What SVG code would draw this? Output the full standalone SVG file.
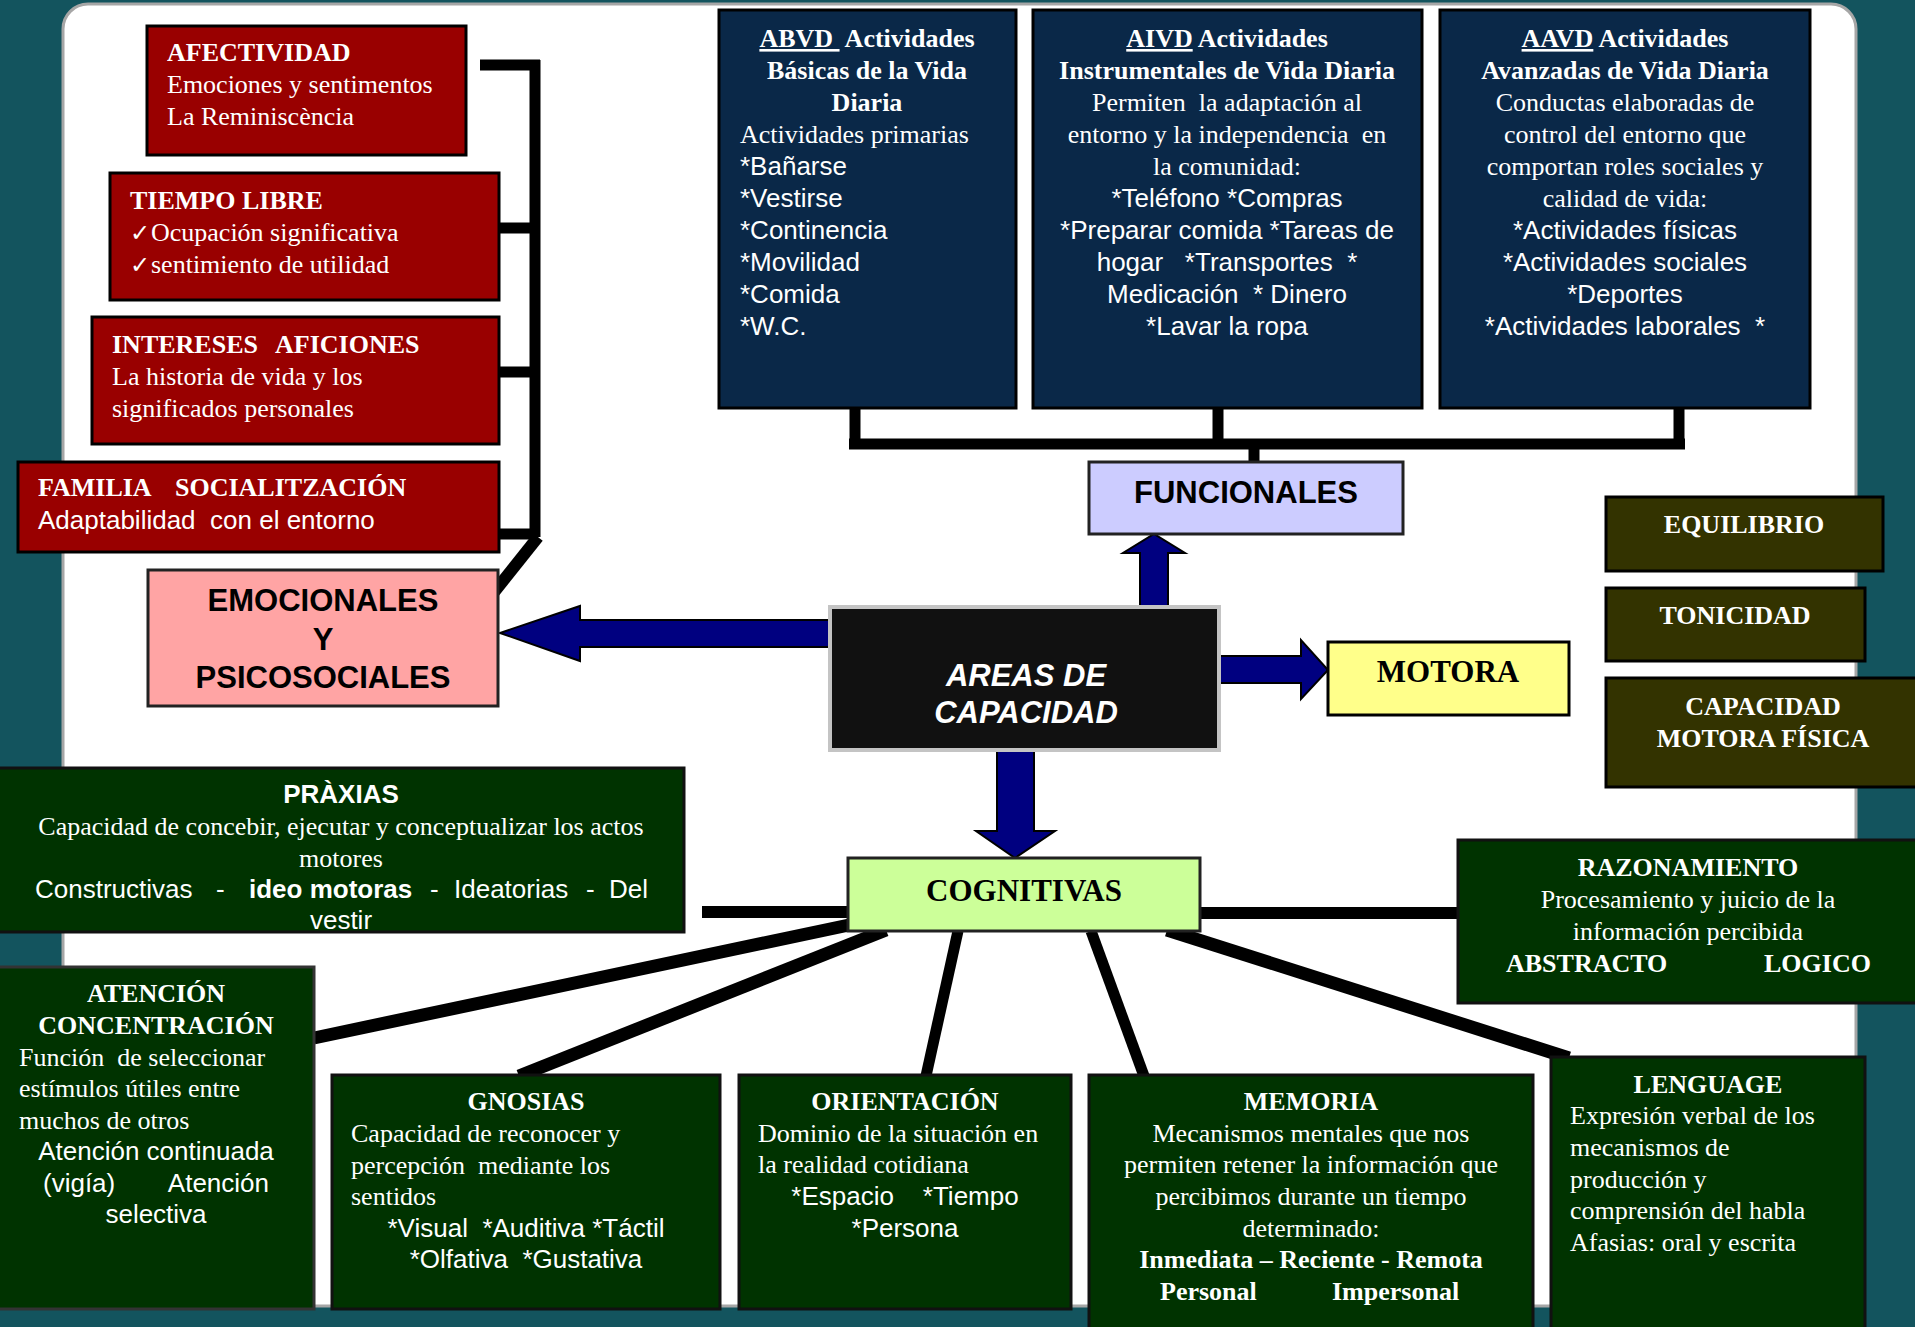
<svg xmlns="http://www.w3.org/2000/svg" width="1915" height="1327" viewBox="0 0 1915 1327">
<style>
text{font-family:"Liberation Serif","Times New Roman",serif;font-size:26px;fill:#fff;white-space:pre}
.s{font-family:"Liberation Sans",Arial,sans-serif}
.b{font-weight:bold}
.m{text-anchor:middle}
.e{text-anchor:end}
.k{fill:#000}
.big{font-size:31px}
.red{fill:#990000;stroke:#000;stroke-width:3}
.navy{fill:#0a2848;stroke:#000;stroke-width:3}
.grn{fill:#003300;stroke:#111;stroke-width:3}
.olv{fill:#333300;stroke:#000;stroke-width:3}
.ln{stroke:#000;fill:none;stroke-linecap:butt}
.arr{fill:#000080;stroke:#000;stroke-width:2;stroke-linejoin:miter}
.ck{font-family:"DejaVu Sans",sans-serif;font-size:24px}
</style>
<rect x="0" y="0" width="1915" height="1327" fill="#13545e"/>
<rect x="63" y="4" width="1793" height="1302" rx="25" ry="25" fill="#fff" stroke="#a6a6a6" stroke-width="3"/>

<g id="connectors">
  <g class="ln" stroke-width="11">
    <line x1="535" y1="60" x2="535" y2="537"/>
    <line x1="480" y1="65" x2="540" y2="65"/>
    <line x1="480" y1="228" x2="535" y2="228"/>
    <line x1="480" y1="372" x2="535" y2="372"/>
    <line x1="480" y1="534" x2="535" y2="534"/>
  </g>
  <line class="ln" x1="538" y1="537" x2="483" y2="606" stroke-width="12"/>
  <g class="ln" stroke-width="11">
    <line x1="855" y1="408" x2="855" y2="444"/>
    <line x1="1218" y1="408" x2="1218" y2="444"/>
    <line x1="1679" y1="408" x2="1679" y2="444"/>
    <line x1="849" y1="444" x2="1685" y2="444"/>
    <line x1="1254" y1="444" x2="1254" y2="462"/>
  </g>
  <line class="ln" x1="702" y1="912" x2="849" y2="912" stroke-width="12"/>
  <line class="ln" x1="1200" y1="913" x2="1458" y2="913" stroke-width="12"/>
  <line class="ln" x1="849" y1="925" x2="314" y2="1038" stroke-width="13"/>
  <line class="ln" x1="886" y1="930" x2="519" y2="1076" stroke-width="13"/>
  <line class="ln" x1="958" y1="931" x2="926" y2="1076" stroke-width="11"/>
  <line class="ln" x1="1091" y1="931" x2="1144" y2="1076" stroke-width="11"/>
  <line class="ln" x1="1167" y1="930" x2="1569" y2="1058" stroke-width="13"/>
  <polygon class="arr" points="832,620 580,620 580,606 500,633 580,661 580,647 832,647"/>
  <polygon class="arr" points="1140,609 1140,553 1123,553 1154,534 1185,553 1168,553 1168,609"/>
  <polygon class="arr" points="1217,656 1301,656 1301,640 1328,670 1301,699 1301,683 1217,683"/>
  <polygon class="arr" points="997,748 997,831 976,831 1015,858 1055,831 1034,831 1034,748"/>
</g>

<g id="afectividad">
  <rect class="red" x="147" y="26" width="319" height="129"/>
  <text x="167" y="61" class="b">AFECTIVIDAD</text>
  <text x="167" y="93">Emociones y sentimentos</text>
  <text x="167" y="125">La Reminiscència</text>
</g>
<g id="tiempo-libre">
  <rect class="red" x="110" y="173" width="389" height="127"/>
  <text x="130" y="209" class="b">TIEMPO LIBRE</text>
  <text x="130" y="241"><tspan class="ck">✓</tspan><tspan x="151">Ocupación significativa</tspan></text>
  <text x="130" y="273"><tspan class="ck">✓</tspan><tspan x="151">sentimiento de utilidad</tspan></text>
</g>
<g id="intereses">
  <rect class="red" x="92" y="317" width="407" height="127"/>
  <text x="112" y="353" class="b">INTERESES<tspan x="275">AFICIONES</tspan></text>
  <text x="112" y="385">La historia de vida y los</text>
  <text x="112" y="417">significados personales</text>
</g>
<g id="familia">
  <rect class="red" x="18" y="462" width="481" height="90"/>
  <text x="38" y="496" class="b">FAMILIA<tspan x="175">SOCIALITZACIÓN</tspan></text>
  <text x="38" y="529" class="s">Adaptabilidad  con el entorno</text>
</g>
<g id="emocionales">
  <rect x="148" y="570" width="350" height="136" fill="#ffa4a4" stroke="#222" stroke-width="3"/>
  <text x="323" y="611" class="s b m k big">EMOCIONALES</text>
  <text x="323" y="650" class="s b m k big">Y</text>
  <text x="323" y="688" class="s b m k big">PSICOSOCIALES</text>
</g>

<g id="abvd">
  <rect class="navy" x="719" y="10" width="297" height="398"/>
  <text x="867" y="47" class="b m"><tspan text-decoration="underline">ABVD </tspan> Actividades</text>
  <text x="867" y="79" class="b m">Básicas de la Vida</text>
  <text x="867" y="111" class="b m">Diaria</text>
  <text x="740" y="143">Actividades primarias</text>
  <text x="740" y="175" class="s">*Bañarse</text>
  <text x="740" y="207" class="s">*Vestirse</text>
  <text x="740" y="239" class="s">*Continencia</text>
  <text x="740" y="271" class="s">*Movilidad</text>
  <text x="740" y="303" class="s">*Comida</text>
  <text x="740" y="335" class="s">*W.C.</text>
</g>
<g id="aivd">
  <rect class="navy" x="1033" y="10" width="389" height="398"/>
  <text x="1227" y="47" class="b m"><tspan text-decoration="underline">AIVD</tspan> Actividades</text>
  <text x="1227" y="79" class="b m">Instrumentales de Vida Diaria</text>
  <text x="1227" y="111" class="m">Permiten  la adaptación al</text>
  <text x="1227" y="143" class="m">entorno y la independencia  en</text>
  <text x="1227" y="175" class="m">la comunidad:</text>
  <text x="1227" y="207" class="s m">*Teléfono *Compras</text>
  <text x="1227" y="239" class="s m">*Preparar comida *Tareas de</text>
  <text x="1227" y="271" class="s m">hogar   *Transportes  *</text>
  <text x="1227" y="303" class="s m">Medicación  * Dinero</text>
  <text x="1227" y="335" class="s m">*Lavar la ropa</text>
</g>
<g id="aavd">
  <rect class="navy" x="1440" y="10" width="370" height="398"/>
  <text x="1625" y="47" class="b m"><tspan text-decoration="underline">AAVD</tspan> Actividades</text>
  <text x="1625" y="79" class="b m">Avanzadas de Vida Diaria</text>
  <text x="1625" y="111" class="m">Conductas elaboradas de</text>
  <text x="1625" y="143" class="m">control del entorno que</text>
  <text x="1625" y="175" class="m">comportan roles sociales y</text>
  <text x="1625" y="207" class="m">calidad de vida:</text>
  <text x="1625" y="239" class="s m">*Actividades físicas</text>
  <text x="1625" y="271" class="s m">*Actividades sociales</text>
  <text x="1625" y="303" class="s m">*Deportes</text>
  <text x="1625" y="335" class="s m">*Actividades laborales  *</text>
</g>

<g id="funcionales">
  <rect x="1089" y="462" width="314" height="72" fill="#ccccff" stroke="#222" stroke-width="3"/>
  <text x="1246" y="503" class="s b m k big">FUNCIONALES</text>
</g>
<g id="areas">
  <rect x="830" y="607" width="389" height="143" fill="#111" stroke="#c4c4c4" stroke-width="4"/>
  <text x="1026" y="686" class="s b m big" font-style="italic">AREAS DE</text>
  <text x="1026" y="723" class="s b m big" font-style="italic">CAPACIDAD</text>
</g>
<g id="motora">
  <rect x="1328" y="642" width="241" height="73" fill="#ffff8a" stroke="#000" stroke-width="3"/>
  <text x="1448" y="682" class="b m k big">MOTORA</text>
</g>
<g id="equilibrio">
  <rect class="olv" x="1606" y="497" width="277" height="74"/>
  <text x="1744" y="533" class="b m">EQUILIBRIO</text>
</g>
<g id="tonicidad">
  <rect class="olv" x="1606" y="588" width="259" height="73"/>
  <text x="1735" y="624" class="b m">TONICIDAD</text>
</g>
<g id="capacidad-motora">
  <rect class="olv" x="1606" y="678" width="320" height="109"/>
  <text x="1763" y="715" class="b m">CAPACIDAD</text>
  <text x="1763" y="747" class="b m">MOTORA FÍSICA</text>
</g>

<g id="praxias">
  <rect class="grn" x="-3" y="768" width="687" height="164"/>
  <text x="341" y="803" class="s b m">PRÀXIAS</text>
  <text x="341" y="835" class="m">Capacidad de concebir, ejecutar y conceptualizar los actos</text>
  <text x="341" y="867" class="m">motores</text>
  <text y="898" class="s"><tspan x="35">Constructivas</tspan><tspan x="216">-</tspan><tspan x="249" font-weight="bold">ideo motoras</tspan><tspan x="430">-</tspan><tspan x="454">Ideatorias</tspan><tspan x="586">-</tspan><tspan x="609">Del</tspan></text>
  <text x="341" y="929" class="s m">vestir</text>
</g>
<g id="cognitivas">
  <rect x="848" y="858" width="352" height="73" fill="#ccff99" stroke="#222" stroke-width="3"/>
  <text x="1024" y="901" class="b m k big">COGNITIVAS</text>
</g>
<g id="razonamiento">
  <rect class="grn" x="1458" y="840" width="470" height="163"/>
  <text x="1688" y="876" class="b m">RAZONAMIENTO</text>
  <text x="1688" y="908" class="m">Procesamiento y juicio de la</text>
  <text x="1688" y="940" class="m">información percibida</text>
  <text x="1506" y="972" class="b">ABSTRACTO</text>
  <text x="1764" y="972" class="b">LOGICO</text>
</g>
<g id="atencion">
  <rect x="-3" y="967" width="317" height="342" fill="#003300" stroke="#333" stroke-width="3"/>
  <text x="156" y="1002" class="b m">ATENCIÓN</text>
  <text x="156" y="1034" class="b m">CONCENTRACIÓN</text>
  <text x="19" y="1066">Función  de seleccionar</text>
  <text x="19" y="1097">estímulos útiles entre</text>
  <text x="19" y="1129">muchos de otros</text>
  <text x="156" y="1160" class="s m">Atención continuada</text>
  <text x="43" y="1192" class="s">(vigía)</text>
  <text x="269" y="1192" class="s e">Atención</text>
  <text x="156" y="1223" class="s m">selectiva</text>
</g>
<g id="gnosias">
  <rect class="grn" x="332" y="1075" width="388" height="234"/>
  <text x="526" y="1110" class="b m">GNOSIAS</text>
  <text x="351" y="1142">Capacidad de reconocer y</text>
  <text x="351" y="1174">percepción  mediante los</text>
  <text x="351" y="1205">sentidos</text>
  <text x="526" y="1237" class="s m">*Visual  *Auditiva *Táctil</text>
  <text x="526" y="1268" class="s m">*Olfativa  *Gustativa</text>
</g>
<g id="orientacion">
  <rect class="grn" x="739" y="1075" width="332" height="234"/>
  <text x="905" y="1110" class="b m">ORIENTACIÓN</text>
  <text x="758" y="1142">Dominio de la situación en</text>
  <text x="758" y="1173">la realidad cotidiana</text>
  <text x="905" y="1205" class="s m">*Espacio    *Tiempo</text>
  <text x="905" y="1237" class="s m">*Persona</text>
</g>
<g id="memoria">
  <rect class="grn" x="1089" y="1075" width="444" height="265"/>
  <text x="1311" y="1110" class="b m">MEMORIA</text>
  <text x="1311" y="1142" class="m">Mecanismos mentales que nos</text>
  <text x="1311" y="1173" class="m">permiten retener la información que</text>
  <text x="1311" y="1205" class="m">percibimos durante un tiempo</text>
  <text x="1311" y="1237" class="m">determinado:</text>
  <text x="1311" y="1268" class="b m">Inmediata – Reciente - Remota</text>
  <text x="1160" y="1300" class="b">Personal</text>
  <text x="1332" y="1300" class="b">Impersonal</text>
</g>
<g id="lenguage">
  <rect class="grn" x="1551" y="1057" width="314" height="283"/>
  <text x="1708" y="1093" class="b m">LENGUAGE</text>
  <text x="1570" y="1124">Expresión verbal de los</text>
  <text x="1570" y="1156">mecanismos de</text>
  <text x="1570" y="1188">producción y</text>
  <text x="1570" y="1219">comprensión del habla</text>
  <text x="1570" y="1251">Afasias: oral y escrita</text>
</g>
</svg>
